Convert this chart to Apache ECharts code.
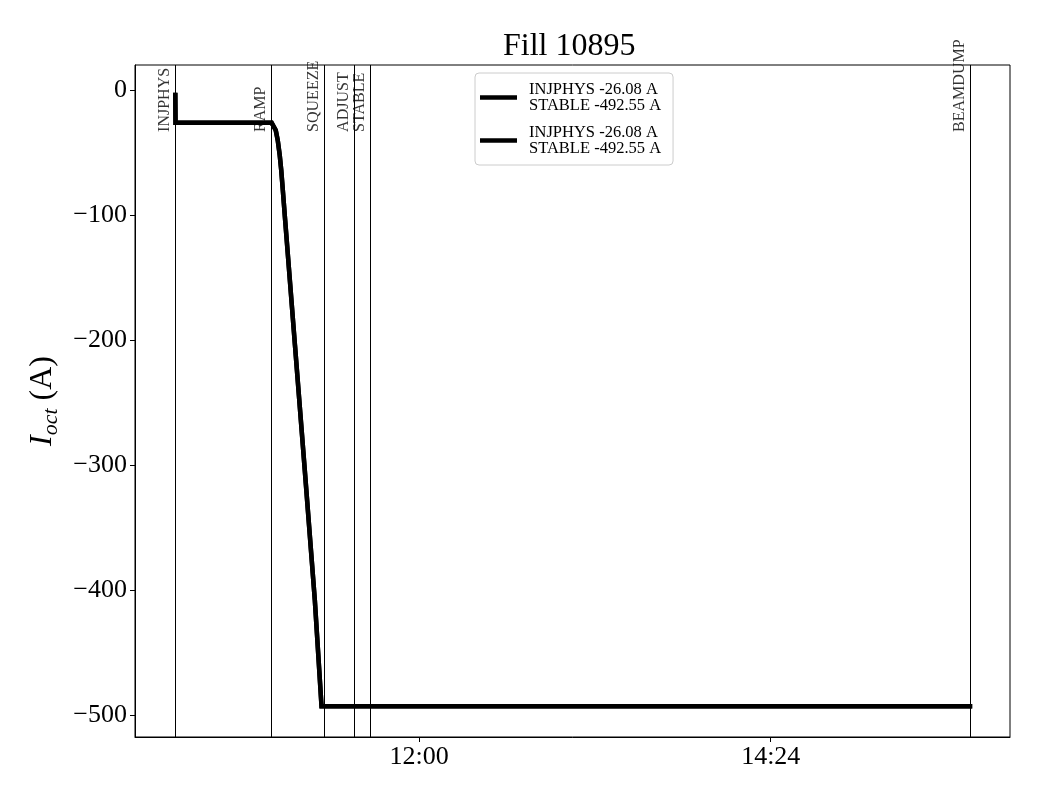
<!DOCTYPE html>
<html>
<head>
<meta charset="utf-8">
<script src="https://cdn.jsdelivr.net/npm/echarts@6/dist/echarts.min.js"></script>
<style>
html,body{margin:0;padding:0;background:#fff;}
#chart{width:1040px;height:800px;}
</style>
</head>
<body>
<div id="chart"></div>
<script>
// ---- data ----
const titleText = 'Fill 10895';
const legendLabel = 'INJPHYS -26.08 A\nSTABLE -492.55 A';
// current trace (time of day, I_oct in A)
const traceTimes = ['10:20:06','10:20:12','10:59:34','11:00:19','11:01:15','11:02:04','11:02:53','11:03:30','11:04:09','11:05:06','11:09:07','11:13:12','11:17:15','11:20:00','15:45:36'];
const traceValues = [-3.8, -26.08, -26.08, -27.2, -32.0, -40.0, -51.9, -63.9, -79.9, -103.9, -203.8, -305.3, -407.5, -492.55, -492.55];
// beam modes
const modeNames = ['INJPHYS','RAMP','SQUEEZE','ADJUST','STABLE','BEAMDUMP'];
const modeTimes = ['10:20:06','10:59:24','11:21:06','11:33:24','11:39:54','15:45:36'];
// tick labels
const xTickLabels = ['12:00','14:24'];
const yTickValues = [0,-100,-200,-300,-400,-500];

// ---- helpers ----
function toMin(s){const p=s.split(':').map(Number);return p[0]*60+p[1]+(p[2]||0)/60;}
function fmtTime(v){const h=Math.floor(v/60+1e-9);const m=Math.round(v-h*60);return String(h).padStart(2,'0')+':'+String(m).padStart(2,'0');}
const traceData = traceTimes.map((t,i)=>[toMin(t),traceValues[i]]);
const xTickValues = xTickLabels.map(toMin);
const FONT = 'Liberation Serif';

const chart = echarts.init(document.getElementById('chart'), null, {renderer:'canvas'});
const labelAnchorY = -33.3;

const option = {
  backgroundColor:'#fff',
  animation:false,
  title:{
    text:titleText, left:503, top:31, padding:0,
    textStyle:{fontFamily:FONT,fontSize:32,fontWeight:'normal',color:'#000'}
  },
  legend:{
    orient:'vertical', left:475, top:73,
    padding:[8,12,8,5], itemGap:10, itemWidth:37, itemHeight:4.5, itemTextGap:5,
    icon:'rect',
    backgroundColor:'#fff', borderColor:'#ccc', borderWidth:1, borderRadius:4,
    formatter:()=>legendLabel,
    textStyle:{fontFamily:FONT,fontSize:16.5,lineHeight:16,color:'#000',padding:[0,0,0,7]},
    data:['trace A','trace B']
  },
  grid:{left:135,right:30,top:65,bottom:63,show:true,borderColor:'#000',borderWidth:1,backgroundColor:'#fff'},
  xAxis:{
    type:'value', min:toMin('10:03:36'), max:toMin('16:02:00'),
    axisLine:{show:true,onZero:false,lineStyle:{color:'#000',width:1}},
    axisTick:{show:true,length:5,lineStyle:{color:'#000'},customValues:xTickValues},
    axisLabel:{fontFamily:FONT,fontSize:26,color:'#000',margin:7,customValues:xTickValues,formatter:v=>fmtTime(v)},
    splitLine:{show:false}
  },
  yAxis:{
    type:'value', min:-517.2, max:20.2,
    name:'{i|I}{s|oct}{n| (A)}', nameLocation:'middle', nameGap:74,
    nameTextStyle:{fontFamily:FONT,color:'#000',rich:{
      i:{fontFamily:FONT,fontStyle:'italic',fontSize:32,color:'#000',lineHeight:36},
      s:{fontFamily:FONT,fontStyle:'italic',fontSize:22,color:'#000',lineHeight:36,padding:[16,0,0,0]},
      n:{fontFamily:FONT,fontSize:32,color:'#000',lineHeight:36}
    }},
    axisLine:{show:true,onZero:false,lineStyle:{color:'#000',width:1}},
    axisTick:{show:true,length:5,lineStyle:{color:'#000'},customValues:yTickValues},
    axisLabel:{fontFamily:FONT,fontSize:26,color:'#000',margin:8,customValues:yTickValues,
      formatter:v=>v<0?'\u2212'+Math.abs(v):String(v)},
    splitLine:{show:false}
  },
  series:[
    {
      name:'trace A', type:'line', data:traceData, symbol:'none', z:3,
      lineStyle:{color:'#000',width:4.5,cap:'square',join:'miter'},
      itemStyle:{color:'#000'},
      markLine:{
        silent:true, symbol:['none','none'],
        lineStyle:{color:'#000',width:1,type:'solid'},
        label:{show:false},
        data:modeTimes.map(t=>({xAxis:toMin(t)}))
      }
    },
    {
      name:'trace B', type:'line', data:traceData, symbol:'none', z:3,
      lineStyle:{color:'#000',width:4.5,cap:'square',join:'miter'},
      itemStyle:{color:'#000'}
    },
    {
      type:'scatter', symbolSize:0, silent:true, z:2,
      data:modeTimes.map((t,i)=>({value:[toMin(t),labelAnchorY],name:modeNames[i]})),
      label:{show:true,position:'inside',rotate:90,align:'left',verticalAlign:'bottom',
        offset:[0,-2],
        formatter:p=>p.name,fontFamily:FONT,fontSize:16,color:'#000'}
    }
  ]
};
chart.setOption(option);
</script>
</body>
</html>
